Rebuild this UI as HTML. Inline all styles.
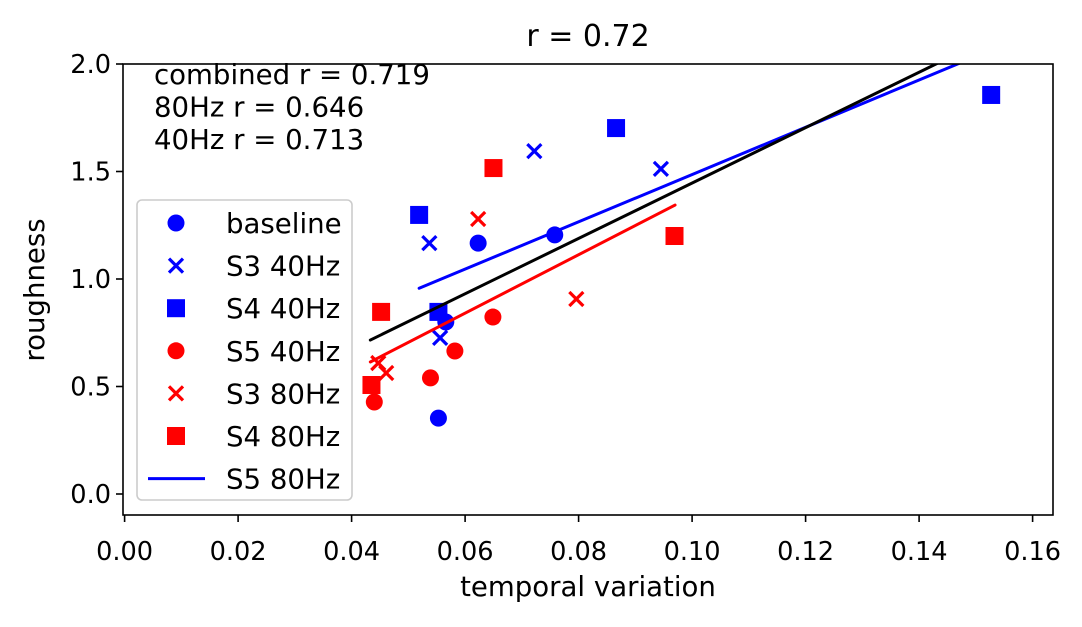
<!DOCTYPE html>
<html><head><meta charset="utf-8"><style>
body{margin:0;background:#fff;}
svg text{font-family:"DejaVu Sans","Liberation Sans",sans-serif;fill:#000;}
</style></head><body>
<svg id="chart" width="1082" height="622" xmlns="http://www.w3.org/2000/svg"></svg>
<script>
const xTicks=[0,0.02,0.04,0.06,0.08,0.10,0.12,0.14,0.16];
const xTickLabels=["0.00","0.02","0.04","0.06","0.08","0.10","0.12","0.14","0.16"];
const yTicks=[0,0.5,1,1.5,2];
const yTickLabels=["0.0","0.5","1.0","1.5","2.0"];
const baselineX=[0.0623,0.0758,0.0566,0.0553];
const baselineY=[1.167,1.205,0.80,0.353];
const s3_40X=[0.0722,0.0945,0.0537,0.0556];
const s3_40Y=[1.595,1.512,1.167,0.726];
const s4_40X=[0.0519,0.0866,0.1527,0.0553];
const s4_40Y=[1.298,1.702,1.856,0.847];
const s5_40X=[0.0649,0.0582,0.0539,0.0440];
const s5_40Y=[0.823,0.665,0.54,0.428];
const s3_80X=[0.0623,0.0796,0.0447,0.0461];
const s3_80Y=[1.279,0.907,0.609,0.563];
const s4_80X=[0.0650,0.0969,0.0452,0.0435];
const s4_80Y=[1.516,1.2,0.847,0.507];
const fit40X=[0.0519,0.1475];
const fit40Y=[0.957,2.008];
const fitAllX=[0.0433,0.1436];
const fitAllY=[0.716,2.008];
const fit80X=[0.0433,0.0970];
const fit80Y=[0.614,1.344];
const annotations=["combined r = 0.719","80Hz r = 0.646","40Hz r = 0.713"];

const NS="http://www.w3.org/2000/svg";
const svg=document.getElementById('chart');
const L=123,R=1053,T=64,B=515;
const X=v=>124.6+v*5675;
const Y=v=>494-v*215;
function el(tag,attrs,parent){const e=document.createElementNS(NS,tag);for(const k in attrs)e.setAttribute(k,attrs[k]);(parent||svg).appendChild(e);return e;}

let t=el('text',{x:588,y:46,'font-size':30,'text-anchor':'middle'});t.textContent='r = 0.72';



xTicks.forEach((v,i)=>{
  let l=el('line',{x1:X(v),x2:X(v),y1:B,y2:B+7,stroke:'#000','stroke-width':1.6});
  
  
  let tx=el('text',{x:X(v),y:B+45,'font-size':25.6,'text-anchor':'middle'});tx.textContent=xTickLabels[i];
  
  
});
yTicks.forEach((v,i)=>{
  let l=el('line',{x1:L-7,x2:L,y1:Y(v),y2:Y(v),stroke:'#000','stroke-width':1.6});
  
  
  let tx=el('text',{x:L-12,y:Y(v)+9,'font-size':25.6,'text-anchor':'end'});tx.textContent=yTickLabels[i];
  
  
});
t=el('text',{x:588,y:596,'font-size':27.6,'text-anchor':'middle'});t.textContent='temporal variation';


t=el('text',{x:0,y:0,'font-size':27.6,'text-anchor':'middle',transform:'translate(44,290) rotate(-90)'});t.textContent='roughness';



const clip=el('clipPath',{id:'pc'});el('rect',{x:L,y:T,width:R-L,height:B-T},clip);
const plot=el('g',{'clip-path':'url(#pc)'});



function circle(cx,cy,c,g){el('circle',{cx,cy,r:8.5,fill:c},g);}
function cross(cx,cy,c,g){const s=7;el('path',{d:`M${cx-s},${cy-s}L${cx+s},${cy+s}M${cx-s},${cy+s}L${cx+s},${cy-s}`,stroke:c,'stroke-width':3.2,fill:'none'},g);}
function square(cx,cy,c,g){el('rect',{x:cx-9,y:cy-9,width:18,height:18,fill:c},g);}
function series(xs,ys,fn,c,name){const g=el('g',{},plot);xs.forEach((v,i)=>fn(X(v),Y(ys[i]),c,g));}
series(baselineX,baselineY,circle,'#0000ff','baseline-points');
series(s3_40X,s3_40Y,cross,'#0000ff','s3-40hz-points');
series(s4_40X,s4_40Y,square,'#0000ff','s4-40hz-points');
series(s5_40X,s5_40Y,circle,'#ff0000','s5-40hz-points');
series(s3_80X,s3_80Y,cross,'#ff0000','s3-80hz-points');
series(s4_80X,s4_80Y,square,'#ff0000','s4-80hz-points');
function fit(xs,ys,c,name){let l=el('line',{x1:X(xs[0]),y1:Y(ys[0]),x2:X(xs[1]),y2:Y(ys[1]),stroke:c,'stroke-width':3,'stroke-linecap':'round'},plot);}
fit(fit40X,fit40Y,'#0000ff','fit-line-40hz');
fit(fitAllX,fitAllY,'#000000','fit-line-combined');
fit(fit80X,fit80Y,'#ff0000','fit-line-80hz');

let fr=el('rect',{x:L,y:T,width:R-L,height:B-T,fill:'none',stroke:'#000','stroke-width':1.6});



annotations.forEach((s,i)=>{let a=el('text',{x:154,y:84+i*32.5,'font-size':27.6});a.textContent=s;

});

const lg=el('g',{});


el('rect',{x:137,y:200,width:215,height:300,rx:5,fill:'#fff','fill-opacity':0.8,stroke:'#ccc','stroke-width':1.6},lg);
const items=[['baseline',circle,'#0000ff'],['S3 40Hz',cross,'#0000ff'],['S4 40Hz',square,'#0000ff'],['S5 40Hz',circle,'#ff0000'],['S3 80Hz',cross,'#ff0000'],['S4 80Hz',square,'#ff0000'],['S5 80Hz',null,'#0000ff']];
items.forEach((it,i)=>{
  const y=223+i*42.6;
  const g=el('g',{},lg);
  
  
  if(it[1])it[1](176,y,it[2],g);else el('line',{x1:148,x2:205,y1:y,y2:y,stroke:it[2],'stroke-width':3},g);
  const tx=el('text',{x:226,y:y+10,'font-size':27.6},g);tx.textContent=it[0];
});
</script>
</body></html>
